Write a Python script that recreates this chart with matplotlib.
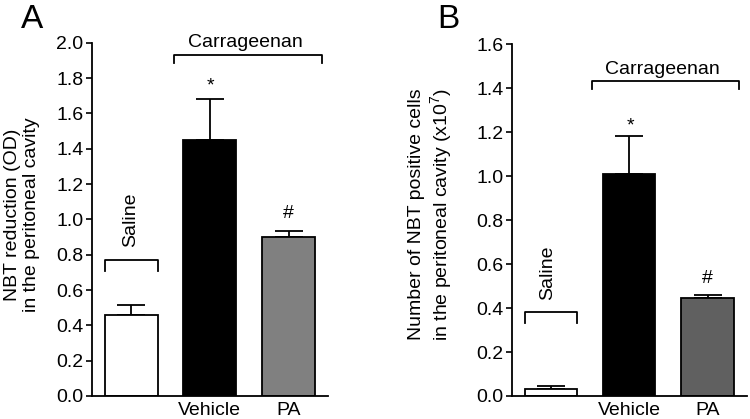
import numpy as np
import matplotlib
matplotlib.use("Agg")
import matplotlib.pyplot as plt

plt.rcParams['font.family'] = ['Liberation Sans', 'DejaVu Sans']
plt.rcParams['mathtext.fontset'] = 'custom'
plt.rcParams['mathtext.rm'] = 'Liberation Sans'
plt.rcParams['mathtext.it'] = 'Liberation Sans'

# Data
groups = ['Saline', 'Vehicle', 'PA']
tick_labels = ['', 'Vehicle', 'PA']

nbt_od = [0.46, 1.45, 0.90]
nbt_od_err = [0.055, 0.233, 0.034]

nbt_cells = [0.03, 1.01, 0.445]
nbt_cells_err = [0.017, 0.175, 0.013]

colors_a = ['white', 'black', '#808080']
colors_b = ['white', 'black', '#606060']

fig = plt.figure(figsize=(7.5, 4.19), dpi=100)
ax_a = fig.add_axes([0.1223, 0.0549, 0.3151, 0.8432])
ax_b = fig.add_axes([0.6823, 0.0549, 0.3133, 0.8394])


def draw_panel(ax, vals, errs, colors, ymax, ylabel, label_x, label_y,
               saline_br, saline_txt, carr_br, carr_txt, star_y, hash_y):
    x = np.arange(len(vals))
    ax.bar(x, vals, width=0.67, color=colors, edgecolor='black', linewidth=1.3, zorder=2)
    ax.errorbar(x, vals, yerr=[np.zeros(len(errs)), errs], fmt='none', ecolor='black',
                elinewidth=1.3, capsize=10, capthick=1.3, zorder=1)
    ax.set_xlim(-0.5, 2.5)
    ax.set_ylim(0, ymax)
    ax.set_yticks(np.arange(0, ymax + 0.01, 0.2))
    ax.set_yticklabels([f'{v:.1f}' for v in np.arange(0, ymax + 0.01, 0.2)])
    ax.set_xticks(x)
    ax.set_xticklabels(tick_labels)
    ax.tick_params(axis='x', length=0, pad=4, labelsize=14)
    ax.tick_params(axis='y', length=4, width=1.2, pad=2, labelsize=14)
    for s in ['top', 'right']:
        ax.spines[s].set_visible(False)
    for s in ['left', 'bottom']:
        ax.spines[s].set_linewidth(1.3)
    ax.set_ylabel(ylabel, fontsize=14, va='center', linespacing=1.15)
    ax.yaxis.set_label_coords(label_x, label_y)

    # Saline bracket
    y0, y1 = saline_br
    ax.plot([-0.335, -0.335, 0.335, 0.335], [y1, y0, y0, y1], color='black', lw=1.3, clip_on=False)
    ax.text(saline_txt[0], saline_txt[1], 'Saline', rotation=90, ha='center', va='center', fontsize=14)

    # Carrageenan bracket
    cx0, cx1, cy0, cy1 = carr_br
    ax.plot([cx0, cx0, cx1, cx1], [cy1, cy0, cy0, cy1], color='black', lw=1.3, clip_on=False)
    ax.text(carr_txt[0], carr_txt[1], 'Carrageenan', ha='center', va='baseline', fontsize=14)

    ax.text(1.01, star_y, '*', ha='center', va='baseline', fontsize=14)
    ax.text(2.0, hash_y, '#', ha='center', va='baseline', fontsize=14)


draw_panel(ax_a, nbt_od, nbt_od_err, colors_a, 2.0,
           'NBT reduction (OD)\nin the peritoneal cavity', -0.295, 0.512,
           (0.77, 0.707), (0.0, 1.0), (0.546, 2.42, 1.93, 1.886), (1.45, 1.975),
           1.73, 1.006)

draw_panel(ax_b, nbt_cells, nbt_cells_err, colors_b, 1.6,
           'Number of NBT positive cells\nin the peritoneal cavity (x10$^{7}$)', -0.343, 0.517,
           (0.384, 0.331), (-0.04, 0.562), (0.524, 2.398, 1.433, 1.395), (1.42, 1.465),
           1.207, 0.513)

fig.text(32 / 750, 1 - 28 / 419, 'A', ha='center', va='baseline', fontsize=24)
fig.text(448 / 750, 1 - 28 / 419, 'B', ha='center', va='baseline', fontsize=24)

fig.savefig('out.png', dpi=100)
